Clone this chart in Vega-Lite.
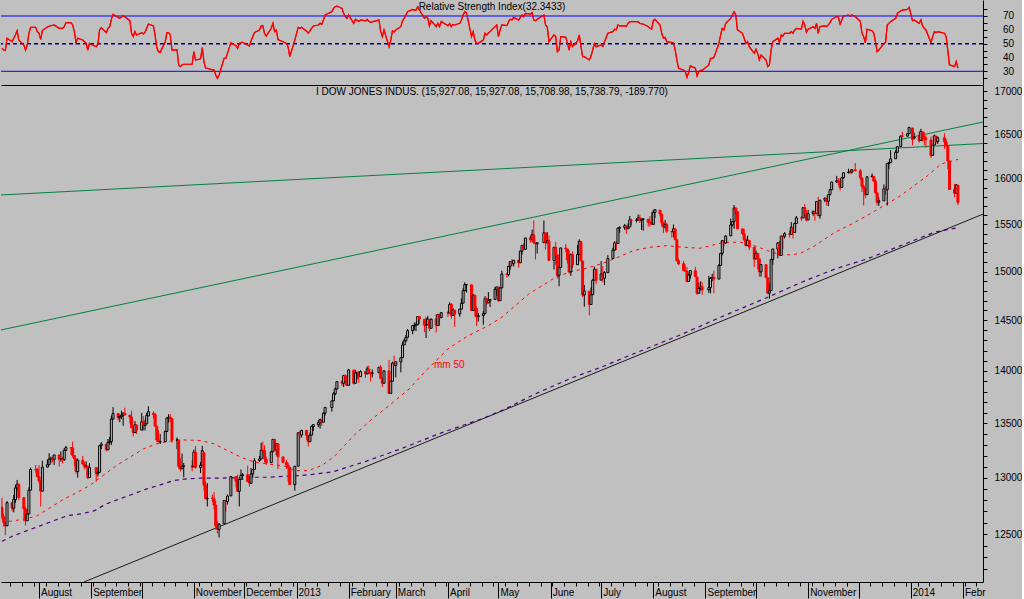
{
"$schema":"https://vega.github.io/schema/vega-lite/v6.json",
"background":"#c0c0c0",
"padding":0,
"spacing":0,
"config":{"view":{"stroke":null},"scale":{"continuousPadding":0},"font":"Liberation Sans","title":{"font":"Liberation Sans","fontSize":10,"fontWeight":"normal","color":"#000000","anchor":"middle","offset":-12,"baseline":"alphabetic"},"axis":{"labelFont":"Liberation Sans","labelFontSize":10,"labelColor":"#000000","domainColor":"#000000","tickColor":"#000000","grid":false,"title":null}},
"datasets":{
"px":[
{"t":"2012-07-10","o":12736,"h":12820,"l":12630,"c":12653,"r":46.6},
{"t":"2012-07-11","o":12653,"h":12680,"l":12565,"c":12605,"r":45.4},
{"t":"2012-07-12","o":12601,"h":12601,"l":12492,"c":12573,"r":45},
{"t":"2012-07-13","o":12573,"h":12791,"l":12573,"c":12777,"r":53.9},
{"t":"2012-07-16","o":12776,"h":12776,"l":12700,"c":12727,"r":51.4},
{"t":"2012-07-17","o":12727,"h":12845,"l":12691,"c":12806,"r":53.9},
{"t":"2012-07-18","o":12803,"h":12935,"l":12775,"c":12908,"r":56.3},
{"t":"2012-07-19","o":12909,"h":12980,"l":12880,"c":12943,"r":59.4},
{"t":"2012-07-20","o":12942,"h":12942,"l":12800,"c":12822,"r":52.6},
{"t":"2012-07-23","o":12821,"h":12821,"l":12611,"c":12722,"r":49},
{"t":"2012-07-24","o":12721,"h":12742,"l":12575,"c":12617,"r":45.4},
{"t":"2012-07-25","o":12617,"h":12716,"l":12617,"c":12676,"r":49},
{"t":"2012-07-26","o":12677,"h":12913,"l":12677,"c":12887,"r":57.5},
{"t":"2012-07-27","o":12888,"h":13092,"l":12888,"c":13075,"r":61.8},
{"t":"2012-07-30","o":13075,"h":13115,"l":13044,"c":13074,"r":61.8},
{"t":"2012-07-31","o":13073,"h":13088,"l":13005,"c":13009,"r":58.7},
{"t":"2012-08-01","o":13009,"h":13114,"l":12950,"c":12971,"r":57.5},
{"t":"2012-08-02","o":12970,"h":12970,"l":12743,"c":12879,"r":53.1},
{"t":"2012-08-03","o":12879,"h":13154,"l":12879,"c":13096,"r":59.5},
{"t":"2012-08-06","o":13096,"h":13165,"l":13096,"c":13118,"r":62},
{"t":"2012-08-07","o":13117,"h":13223,"l":13117,"c":13169,"r":62.6},
{"t":"2012-08-08","o":13167,"h":13191,"l":13130,"c":13176,"r":63},
{"t":"2012-08-09","o":13175,"h":13191,"l":13138,"c":13165,"r":63.2},
{"t":"2012-08-10","o":13164,"h":13208,"l":13115,"c":13207,"r":63.5},
{"t":"2012-08-13","o":13207,"h":13207,"l":13100,"c":13169,"r":61.1},
{"t":"2012-08-14","o":13170,"h":13240,"l":13145,"c":13172,"r":61.1},
{"t":"2012-08-15","o":13172,"h":13190,"l":13130,"c":13164,"r":61.1},
{"t":"2012-08-16","o":13165,"h":13270,"l":13152,"c":13250,"r":62.3},
{"t":"2012-08-17","o":13250,"h":13290,"l":13242,"c":13275,"r":65.2},
{"t":"2012-08-20","o":13274,"h":13274,"l":13209,"c":13272,"r":65.2},
{"t":"2012-08-21","o":13272,"h":13330,"l":13183,"c":13203,"r":63.5},
{"t":"2012-08-22","o":13202,"h":13205,"l":13105,"c":13173,"r":58.7},
{"t":"2012-08-23","o":13171,"h":13171,"l":13036,"c":13057,"r":50.7},
{"t":"2012-08-24","o":13055,"h":13175,"l":13000,"c":13158,"r":53.9},
{"t":"2012-08-27","o":13158,"h":13199,"l":13119,"c":13124,"r":52.6},
{"t":"2012-08-28","o":13123,"h":13144,"l":13075,"c":13102,"r":51.4},
{"t":"2012-08-29","o":13103,"h":13149,"l":13087,"c":13107,"r":50.2},
{"t":"2012-08-30","o":13105,"h":13105,"l":12986,"c":13000,"r":45.4},
{"t":"2012-08-31","o":13001,"h":13133,"l":13001,"c":13091,"r":50.2},
{"t":"2012-09-04","o":13092,"h":13092,"l":12964,"c":13036,"r":47.8},
{"t":"2012-09-05","o":13036,"h":13081,"l":13010,"c":13047,"r":49.7},
{"t":"2012-09-06","o":13049,"h":13293,"l":13049,"c":13292,"r":59.9},
{"t":"2012-09-07","o":13292,"h":13326,"l":13261,"c":13307,"r":61.6},
{"t":"2012-09-10","o":13306,"h":13306,"l":13239,"c":13254,"r":58},
{"t":"2012-09-11","o":13254,"h":13354,"l":13254,"c":13323,"r":61.1},
{"t":"2012-09-12","o":13324,"h":13373,"l":13303,"c":13333,"r":62.3},
{"t":"2012-09-13","o":13330,"h":13573,"l":13300,"c":13540,"r":67.6},
{"t":"2012-09-14","o":13540,"h":13653,"l":13533,"c":13593,"r":71.2},
{"t":"2012-09-17","o":13592,"h":13592,"l":13528,"c":13553,"r":69},
{"t":"2012-09-18","o":13553,"h":13582,"l":13510,"c":13565,"r":68.3},
{"t":"2012-09-19","o":13564,"h":13620,"l":13540,"c":13577,"r":69.4},
{"t":"2012-09-20","o":13576,"h":13597,"l":13477,"c":13597,"r":70},
{"t":"2012-09-21","o":13597,"h":13647,"l":13579,"c":13579,"r":69.4},
{"t":"2012-09-24","o":13577,"h":13577,"l":13500,"c":13559,"r":66.6},
{"t":"2012-09-25","o":13559,"h":13620,"l":13456,"c":13458,"r":57.5},
{"t":"2012-09-26","o":13457,"h":13457,"l":13378,"c":13414,"r":55.1},
{"t":"2012-09-27","o":13414,"h":13522,"l":13414,"c":13486,"r":58.7},
{"t":"2012-09-28","o":13485,"h":13485,"l":13400,"c":13437,"r":56.3},
{"t":"2012-10-01","o":13437,"h":13598,"l":13437,"c":13515,"r":58},
{"t":"2012-10-02","o":13515,"h":13567,"l":13432,"c":13482,"r":57},
{"t":"2012-10-03","o":13479,"h":13536,"l":13434,"c":13495,"r":58.2},
{"t":"2012-10-04","o":13495,"h":13598,"l":13495,"c":13575,"r":61.1},
{"t":"2012-10-05","o":13569,"h":13661,"l":13569,"c":13610,"r":64.2},
{"t":"2012-10-08","o":13594,"h":13613,"l":13546,"c":13584,"r":62.8},
{"t":"2012-10-09","o":13582,"h":13599,"l":13473,"c":13473,"r":56},
{"t":"2012-10-10","o":13473,"h":13473,"l":13327,"c":13345,"r":47},
{"t":"2012-10-11","o":13346,"h":13434,"l":13326,"c":13327,"r":44.2},
{"t":"2012-10-12","o":13326,"h":13401,"l":13308,"c":13329,"r":43.7},
{"t":"2012-10-15","o":13329,"h":13435,"l":13329,"c":13424,"r":51.4},
{"t":"2012-10-16","o":13424,"h":13553,"l":13424,"c":13551,"r":58},
{"t":"2012-10-17","o":13550,"h":13585,"l":13508,"c":13557,"r":58},
{"t":"2012-10-18","o":13556,"h":13588,"l":13511,"c":13548,"r":56.3},
{"t":"2012-10-19","o":13545,"h":13545,"l":13320,"c":13344,"r":45.4},
{"t":"2012-10-22","o":13343,"h":13368,"l":13260,"c":13346,"r":45.6},
{"t":"2012-10-23","o":13344,"h":13344,"l":13082,"c":13103,"r":34.6},
{"t":"2012-10-24","o":13104,"h":13175,"l":13055,"c":13078,"r":33.4},
{"t":"2012-10-25","o":13080,"h":13220,"l":13080,"c":13104,"r":34.6},
{"t":"2012-10-26","o":13103,"h":13134,"l":13004,"c":13107,"r":35.1},
{"t":"2012-10-31","o":13108,"h":13158,"l":13058,"c":13096,"r":35.1},
{"t":"2012-11-01","o":13099,"h":13257,"l":13099,"c":13232,"r":44.2},
{"t":"2012-11-02","o":13233,"h":13290,"l":13083,"c":13093,"r":38.2},
{"t":"2012-11-05","o":13092,"h":13141,"l":13042,"c":13112,"r":39},
{"t":"2012-11-06","o":13113,"h":13290,"l":13113,"c":13246,"r":47.1},
{"t":"2012-11-07","o":13228,"h":13228,"l":12883,"c":12933,"r":37},
{"t":"2012-11-08","o":12932,"h":12967,"l":12811,"c":12811,"r":32.2},
{"t":"2012-11-09","o":12811,"h":12951,"l":12743,"c":12815,"r":32.2},
{"t":"2012-11-12","o":12816,"h":12849,"l":12781,"c":12815,"r":31},
{"t":"2012-11-13","o":12811,"h":12870,"l":12715,"c":12756,"r":31},
{"t":"2012-11-14","o":12755,"h":12794,"l":12541,"c":12571,"r":27.3},
{"t":"2012-11-15","o":12570,"h":12616,"l":12506,"c":12543,"r":24.9},
{"t":"2012-11-16","o":12542,"h":12595,"l":12471,"c":12588,"r":27.3},
{"t":"2012-11-19","o":12590,"h":12797,"l":12590,"c":12796,"r":39.4},
{"t":"2012-11-20","o":12795,"h":12797,"l":12696,"c":12788,"r":39.4},
{"t":"2012-11-21","o":12787,"h":12850,"l":12760,"c":12836,"r":43},
{"t":"2012-11-23","o":12837,"h":13010,"l":12837,"c":13010,"r":50.7},
{"t":"2012-11-26","o":13009,"h":13009,"l":12913,"c":12968,"r":48.5},
{"t":"2012-11-27","o":12966,"h":13027,"l":12870,"c":12878,"r":46.6},
{"t":"2012-11-28","o":12877,"h":12987,"l":12743,"c":12985,"r":50.2},
{"t":"2012-11-29","o":12986,"h":13074,"l":12986,"c":13022,"r":50.7},
{"t":"2012-11-30","o":13020,"h":13042,"l":12980,"c":13026,"r":51},
{"t":"2012-12-03","o":13027,"h":13109,"l":12960,"c":12966,"r":49},
{"t":"2012-12-04","o":12965,"h":13011,"l":12918,"c":12952,"r":48.3},
{"t":"2012-12-05","o":12950,"h":13087,"l":12944,"c":13034,"r":52},
{"t":"2012-12-06","o":13033,"h":13079,"l":12998,"c":13075,"r":55.1},
{"t":"2012-12-07","o":13075,"h":13178,"l":13075,"c":13155,"r":58},
{"t":"2012-12-10","o":13155,"h":13198,"l":13145,"c":13170,"r":59.9},
{"t":"2012-12-11","o":13169,"h":13320,"l":13169,"c":13249,"r":62.8},
{"t":"2012-12-12","o":13249,"h":13330,"l":13228,"c":13245,"r":62.8},
{"t":"2012-12-13","o":13246,"h":13296,"l":13141,"c":13171,"r":57.5},
{"t":"2012-12-14","o":13170,"h":13192,"l":13115,"c":13135,"r":55.5},
{"t":"2012-12-17","o":13137,"h":13246,"l":13137,"c":13236,"r":61.1},
{"t":"2012-12-18","o":13236,"h":13352,"l":13236,"c":13351,"r":64.7},
{"t":"2012-12-19","o":13350,"h":13352,"l":13246,"c":13252,"r":58.7},
{"t":"2012-12-20","o":13252,"h":13312,"l":13203,"c":13312,"r":59.9},
{"t":"2012-12-21","o":13310,"h":13310,"l":13078,"c":13190,"r":53},
{"t":"2012-12-24","o":13189,"h":13189,"l":13133,"c":13139,"r":51.4},
{"t":"2012-12-26","o":13139,"h":13162,"l":13078,"c":13115,"r":50.2},
{"t":"2012-12-27","o":13114,"h":13138,"l":12964,"c":13096,"r":47.8},
{"t":"2012-12-28","o":13095,"h":13095,"l":12935,"c":12938,"r":40.6},
{"t":"2012-12-31","o":12938,"h":13105,"l":12883,"c":13104,"r":52.6},
{"t":"2013-01-02","o":13104,"h":13412,"l":13104,"c":13412,"r":61.8},
{"t":"2013-01-03","o":13413,"h":13430,"l":13358,"c":13391,"r":61.1},
{"t":"2013-01-04","o":13392,"h":13436,"l":13367,"c":13435,"r":61.8},
{"t":"2013-01-07","o":13435,"h":13435,"l":13345,"c":13384,"r":59},
{"t":"2013-01-08","o":13383,"h":13384,"l":13284,"c":13329,"r":57.5},
{"t":"2013-01-09","o":13329,"h":13414,"l":13329,"c":13390,"r":59.4},
{"t":"2013-01-10","o":13390,"h":13481,"l":13390,"c":13471,"r":61.1},
{"t":"2013-01-11","o":13470,"h":13488,"l":13429,"c":13488,"r":62.8},
{"t":"2013-01-14","o":13487,"h":13530,"l":13464,"c":13507,"r":63.5},
{"t":"2013-01-15","o":13504,"h":13545,"l":13450,"c":13535,"r":64.7},
{"t":"2013-01-16","o":13532,"h":13532,"l":13474,"c":13511,"r":64},
{"t":"2013-01-17","o":13511,"h":13603,"l":13511,"c":13596,"r":67.1},
{"t":"2013-01-18","o":13596,"h":13650,"l":13574,"c":13650,"r":70.7},
{"t":"2013-01-22","o":13649,"h":13713,"l":13610,"c":13712,"r":73.1},
{"t":"2013-01-23","o":13712,"h":13795,"l":13712,"c":13780,"r":75.5},
{"t":"2013-01-24","o":13779,"h":13839,"l":13766,"c":13825,"r":76.7},
{"t":"2013-01-25","o":13825,"h":13896,"l":13825,"c":13896,"r":77.2},
{"t":"2013-01-28","o":13895,"h":13909,"l":13856,"c":13882,"r":75.5},
{"t":"2013-01-29","o":13881,"h":13955,"l":13845,"c":13955,"r":72},
{"t":"2013-01-30","o":13954,"h":13967,"l":13857,"c":13911,"r":69.6},
{"t":"2013-01-31","o":13910,"h":13944,"l":13859,"c":13861,"r":68.3},
{"t":"2013-02-01","o":13862,"h":14020,"l":13862,"c":14010,"r":70.7},
{"t":"2013-02-04","o":14008,"h":14008,"l":13867,"c":13880,"r":64.7},
{"t":"2013-02-05","o":13881,"h":14011,"l":13881,"c":13979,"r":67.6},
{"t":"2013-02-06","o":13978,"h":13987,"l":13916,"c":13987,"r":67},
{"t":"2013-02-07","o":13986,"h":13999,"l":13885,"c":13944,"r":66.1},
{"t":"2013-02-08","o":13945,"h":14006,"l":13945,"c":13993,"r":67.1},
{"t":"2013-02-11","o":13992,"h":13992,"l":13934,"c":13971,"r":66.5},
{"t":"2013-02-12","o":13971,"h":14045,"l":13971,"c":14019,"r":67.5},
{"t":"2013-02-13","o":14018,"h":14052,"l":13969,"c":13983,"r":66.1},
{"t":"2013-02-14","o":13983,"h":13983,"l":13897,"c":13973,"r":65.4},
{"t":"2013-02-15","o":13973,"h":14015,"l":13937,"c":13982,"r":65.8},
{"t":"2013-02-19","o":13982,"h":14036,"l":13982,"c":14036,"r":67.1},
{"t":"2013-02-20","o":14035,"h":14057,"l":13926,"c":13928,"r":59},
{"t":"2013-02-21","o":13925,"h":13925,"l":13845,"c":13881,"r":55.1},
{"t":"2013-02-22","o":13881,"h":14001,"l":13881,"c":14001,"r":59.9},
{"t":"2013-02-25","o":14000,"h":14108,"l":13784,"c":13784,"r":47.8},
{"t":"2013-02-26","o":13784,"h":13902,"l":13784,"c":13900,"r":52.6},
{"t":"2013-02-27","o":13900,"h":14090,"l":13900,"c":14076,"r":59.2},
{"t":"2013-02-28","o":14075,"h":14150,"l":14045,"c":14054,"r":58.5},
{"t":"2013-03-01","o":14054,"h":14090,"l":13937,"c":14090,"r":59.9},
{"t":"2013-03-04","o":14088,"h":14128,"l":13987,"c":14128,"r":62.3},
{"t":"2013-03-05","o":14130,"h":14287,"l":14130,"c":14254,"r":66.6},
{"t":"2013-03-06","o":14255,"h":14316,"l":14255,"c":14296,"r":68.3},
{"t":"2013-03-07","o":14296,"h":14354,"l":14282,"c":14329,"r":70.7},
{"t":"2013-03-08","o":14330,"h":14413,"l":14330,"c":14397,"r":73.1},
{"t":"2013-03-11","o":14397,"h":14448,"l":14361,"c":14448,"r":74.8},
{"t":"2013-03-12","o":14447,"h":14479,"l":14400,"c":14450,"r":74.3},
{"t":"2013-03-13","o":14450,"h":14480,"l":14393,"c":14455,"r":74.3},
{"t":"2013-03-14","o":14456,"h":14539,"l":14456,"c":14539,"r":76.7},
{"t":"2013-03-15","o":14538,"h":14540,"l":14466,"c":14515,"r":74.3},
{"t":"2013-03-18","o":14511,"h":14511,"l":14382,"c":14453,"r":68.3},
{"t":"2013-03-19","o":14452,"h":14531,"l":14324,"c":14456,"r":69.6},
{"t":"2013-03-20","o":14457,"h":14546,"l":14457,"c":14512,"r":68.3},
{"t":"2013-03-21","o":14511,"h":14511,"l":14390,"c":14421,"r":62.8},
{"t":"2013-03-22","o":14421,"h":14518,"l":14421,"c":14512,"r":66.6},
{"t":"2013-03-25","o":14513,"h":14563,"l":14378,"c":14448,"r":62.3},
{"t":"2013-03-26","o":14448,"h":14560,"l":14448,"c":14560,"r":64.7},
{"t":"2013-03-27","o":14559,"h":14559,"l":14446,"c":14527,"r":62.3},
{"t":"2013-03-28","o":14527,"h":14585,"l":14527,"c":14579,"r":66.1},
{"t":"2013-04-01","o":14578,"h":14598,"l":14535,"c":14573,"r":63},
{"t":"2013-04-02","o":14574,"h":14684,"l":14574,"c":14662,"r":64.5},
{"t":"2013-04-03","o":14662,"h":14675,"l":14516,"c":14550,"r":62.3},
{"t":"2013-04-04","o":14550,"h":14622,"l":14550,"c":14606,"r":63.9},
{"t":"2013-04-05","o":14603,"h":14603,"l":14434,"c":14565,"r":63.5},
{"t":"2013-04-08","o":14565,"h":14613,"l":14537,"c":14614,"r":64.7},
{"t":"2013-04-09","o":14613,"h":14723,"l":14613,"c":14673,"r":67.1},
{"t":"2013-04-10","o":14674,"h":14826,"l":14674,"c":14802,"r":70.7},
{"t":"2013-04-11","o":14802,"h":14888,"l":14802,"c":14865,"r":73.1},
{"t":"2013-04-12","o":14864,"h":14866,"l":14783,"c":14865,"r":72.4},
{"t":"2013-04-15","o":14863,"h":14863,"l":14596,"c":14599,"r":55.1},
{"t":"2013-04-16","o":14600,"h":14769,"l":14600,"c":14757,"r":58.7},
{"t":"2013-04-17","o":14756,"h":14756,"l":14536,"c":14619,"r":52.6},
{"t":"2013-04-18","o":14619,"h":14640,"l":14444,"c":14537,"r":50.2},
{"t":"2013-04-19","o":14537,"h":14574,"l":14487,"c":14548,"r":50.2},
{"t":"2013-04-22","o":14548,"h":14595,"l":14456,"c":14567,"r":52.6},
{"t":"2013-04-23","o":14568,"h":14746,"l":14568,"c":14719,"r":57.5},
{"t":"2013-04-24","o":14720,"h":14731,"l":14656,"c":14676,"r":56.3},
{"t":"2013-04-25","o":14677,"h":14787,"l":14677,"c":14700,"r":57.5},
{"t":"2013-04-26","o":14699,"h":14715,"l":14636,"c":14712,"r":58.7},
{"t":"2013-04-29","o":14713,"h":14843,"l":14713,"c":14818,"r":62.3},
{"t":"2013-04-30","o":14818,"h":14844,"l":14749,"c":14840,"r":63.5},
{"t":"2013-05-01","o":14839,"h":14839,"l":14687,"c":14700,"r":55.1},
{"t":"2013-05-02","o":14700,"h":14832,"l":14700,"c":14831,"r":59.9},
{"t":"2013-05-03","o":14831,"h":15009,"l":14831,"c":14974,"r":63.5},
{"t":"2013-05-06","o":14973,"h":14986,"l":14936,"c":14969,"r":63},
{"t":"2013-05-07","o":14968,"h":15057,"l":14950,"c":15056,"r":65.9},
{"t":"2013-05-08","o":15056,"h":15106,"l":15019,"c":15105,"r":67.6},
{"t":"2013-05-09","o":15106,"h":15128,"l":15057,"c":15082,"r":67.1},
{"t":"2013-05-10","o":15082,"h":15118,"l":15053,"c":15118,"r":69},
{"t":"2013-05-13","o":15118,"h":15118,"l":15039,"c":15091,"r":67.1},
{"t":"2013-05-14","o":15091,"h":15219,"l":15091,"c":15215,"r":69},
{"t":"2013-05-15","o":15213,"h":15275,"l":15177,"c":15275,"r":70.7},
{"t":"2013-05-16","o":15275,"h":15296,"l":15233,"c":15233,"r":69.5},
{"t":"2013-05-17","o":15233,"h":15355,"l":15233,"c":15354,"r":71.9},
{"t":"2013-05-20","o":15356,"h":15381,"l":15304,"c":15335,"r":71.4},
{"t":"2013-05-21","o":15336,"h":15443,"l":15313,"c":15388,"r":72.4},
{"t":"2013-05-22","o":15387,"h":15543,"l":15288,"c":15307,"r":67.1},
{"t":"2013-05-23","o":15303,"h":15303,"l":15125,"c":15294,"r":66.6},
{"t":"2013-05-24","o":15292,"h":15305,"l":15189,"c":15303,"r":67.6},
{"t":"2013-05-28","o":15304,"h":15542,"l":15304,"c":15409,"r":70.7},
{"t":"2013-05-29","o":15408,"h":15408,"l":15231,"c":15303,"r":63.5},
{"t":"2013-05-30","o":15303,"h":15416,"l":15297,"c":15324,"r":62},
{"t":"2013-05-31","o":15324,"h":15379,"l":15116,"c":15116,"r":51.4},
{"t":"2013-06-03","o":15116,"h":15255,"l":15022,"c":15255,"r":56.3},
{"t":"2013-06-04","o":15254,"h":15313,"l":15071,"c":15177,"r":55.1},
{"t":"2013-06-05","o":15176,"h":15176,"l":14927,"c":14960,"r":44.2},
{"t":"2013-06-06","o":14961,"h":15041,"l":14848,"c":15041,"r":45.4},
{"t":"2013-06-07","o":15042,"h":15249,"l":15042,"c":15248,"r":55.1},
{"t":"2013-06-10","o":15247,"h":15290,"l":15205,"c":15239,"r":54.6},
{"t":"2013-06-11","o":15237,"h":15237,"l":15082,"c":15122,"r":50.2},
{"t":"2013-06-12","o":15123,"h":15224,"l":14979,"c":14996,"r":45.4},
{"t":"2013-06-13","o":14996,"h":15189,"l":14955,"c":15177,"r":51.4},
{"t":"2013-06-14","o":15176,"h":15212,"l":15039,"c":15071,"r":47.8},
{"t":"2013-06-17","o":15071,"h":15279,"l":15071,"c":15180,"r":52},
{"t":"2013-06-18","o":15179,"h":15340,"l":15179,"c":15318,"r":56.3},
{"t":"2013-06-19","o":15317,"h":15319,"l":15109,"c":15112,"r":48},
{"t":"2013-06-20","o":15110,"h":15110,"l":14737,"c":14758,"r":40.6},
{"t":"2013-06-21","o":14758,"h":14861,"l":14639,"c":14800,"r":40.6},
{"t":"2013-06-24","o":14798,"h":14798,"l":14551,"c":14660,"r":38.2},
{"t":"2013-06-25","o":14661,"h":14836,"l":14661,"c":14760,"r":41},
{"t":"2013-06-26","o":14761,"h":14921,"l":14761,"c":14910,"r":45.4},
{"t":"2013-06-27","o":14911,"h":15052,"l":14911,"c":15024,"r":50.2},
{"t":"2013-06-28","o":15024,"h":15024,"l":14868,"c":14910,"r":47.8},
{"t":"2013-07-01","o":14911,"h":15109,"l":14911,"c":14975,"r":49},
{"t":"2013-07-02","o":14973,"h":15057,"l":14887,"c":14932,"r":48},
{"t":"2013-07-03","o":14931,"h":15004,"l":14859,"c":14988,"r":51.4},
{"t":"2013-07-05","o":14988,"h":15172,"l":14988,"c":15136,"r":57.5},
{"t":"2013-07-08","o":15136,"h":15251,"l":15136,"c":15225,"r":58.7},
{"t":"2013-07-09","o":15225,"h":15319,"l":15225,"c":15300,"r":60.4},
{"t":"2013-07-10","o":15300,"h":15317,"l":15225,"c":15291,"r":60},
{"t":"2013-07-11","o":15295,"h":15460,"l":15295,"c":15460,"r":63.5},
{"t":"2013-07-12","o":15459,"h":15480,"l":15409,"c":15464,"r":62.8},
{"t":"2013-07-15","o":15465,"h":15505,"l":15440,"c":15485,"r":62.8},
{"t":"2013-07-16","o":15484,"h":15484,"l":15398,"c":15452,"r":62.5},
{"t":"2013-07-17","o":15452,"h":15511,"l":15447,"c":15471,"r":64.7},
{"t":"2013-07-18","o":15472,"h":15590,"l":15472,"c":15548,"r":65.9},
{"t":"2013-07-19","o":15545,"h":15561,"l":15490,"c":15544,"r":65.9},
{"t":"2013-07-22","o":15544,"h":15569,"l":15520,"c":15545,"r":65.9},
{"t":"2013-07-23","o":15545,"h":15605,"l":15542,"c":15568,"r":65.9},
{"t":"2013-07-24","o":15569,"h":15605,"l":15514,"c":15543,"r":64.7},
{"t":"2013-07-25","o":15542,"h":15562,"l":15440,"c":15555,"r":64.2},
{"t":"2013-07-26","o":15554,"h":15560,"l":15432,"c":15559,"r":64.2},
{"t":"2013-07-29","o":15555,"h":15556,"l":15475,"c":15521,"r":62.3},
{"t":"2013-07-30","o":15522,"h":15589,"l":15477,"c":15521,"r":61.1},
{"t":"2013-07-31","o":15521,"h":15634,"l":15493,"c":15500,"r":60.5},
{"t":"2013-08-01","o":15500,"h":15658,"l":15500,"c":15628,"r":66.6},
{"t":"2013-08-02","o":15628,"h":15658,"l":15570,"c":15658,"r":67.6},
{"t":"2013-08-05","o":15653,"h":15653,"l":15584,"c":15612,"r":63.5},
{"t":"2013-08-06","o":15611,"h":15611,"l":15477,"c":15519,"r":57.5},
{"t":"2013-08-07","o":15518,"h":15518,"l":15405,"c":15471,"r":53.9},
{"t":"2013-08-08","o":15472,"h":15546,"l":15453,"c":15498,"r":54.5},
{"t":"2013-08-09","o":15497,"h":15518,"l":15408,"c":15426,"r":51.4},
{"t":"2013-08-12","o":15425,"h":15425,"l":15357,"c":15419,"r":50.7},
{"t":"2013-08-13","o":15420,"h":15498,"l":15361,"c":15452,"r":50.7},
{"t":"2013-08-14","o":15451,"h":15451,"l":15328,"c":15337,"r":45.4},
{"t":"2013-08-15","o":15336,"h":15336,"l":15107,"c":15112,"r":38.2},
{"t":"2013-08-16","o":15113,"h":15137,"l":15070,"c":15081,"r":32.2},
{"t":"2013-08-19","o":15082,"h":15112,"l":15010,"c":15010,"r":31},
{"t":"2013-08-20","o":15011,"h":15072,"l":15000,"c":15003,"r":29.8},
{"t":"2013-08-21","o":15003,"h":15047,"l":14887,"c":14897,"r":25.7},
{"t":"2013-08-22","o":14898,"h":14981,"l":14898,"c":14964,"r":29.1},
{"t":"2013-08-23","o":14964,"h":15011,"l":14926,"c":15010,"r":33.9},
{"t":"2013-08-26","o":15009,"h":15049,"l":14945,"c":14946,"r":32.2},
{"t":"2013-08-27","o":14943,"h":14943,"l":14760,"c":14776,"r":26.6},
{"t":"2013-08-28","o":14776,"h":14885,"l":14776,"c":14824,"r":29.8},
{"t":"2013-08-29","o":14824,"h":14899,"l":14805,"c":14841,"r":30.6},
{"t":"2013-08-30","o":14843,"h":14893,"l":14760,"c":14810,"r":30.6},
{"t":"2013-09-03","o":14810,"h":14955,"l":14777,"c":14834,"r":34.6},
{"t":"2013-09-04","o":14833,"h":14942,"l":14775,"c":14930,"r":39.4},
{"t":"2013-09-05","o":14931,"h":14976,"l":14899,"c":14938,"r":39.4},
{"t":"2013-09-06","o":14939,"h":15009,"l":14776,"c":14922,"r":40},
{"t":"2013-09-09","o":14922,"h":15079,"l":14922,"c":15063,"r":50.2},
{"t":"2013-09-10","o":15064,"h":15191,"l":15064,"c":15191,"r":56.3},
{"t":"2013-09-11","o":15192,"h":15326,"l":15170,"c":15326,"r":61.1},
{"t":"2013-09-12","o":15326,"h":15327,"l":15264,"c":15300,"r":60},
{"t":"2013-09-13","o":15300,"h":15381,"l":15292,"c":15376,"r":64.7},
{"t":"2013-09-16","o":15376,"h":15563,"l":15376,"c":15494,"r":68.3},
{"t":"2013-09-17","o":15494,"h":15535,"l":15478,"c":15529,"r":70.7},
{"t":"2013-09-18","o":15530,"h":15709,"l":15453,"c":15676,"r":73.1},
{"t":"2013-09-19","o":15677,"h":15677,"l":15605,"c":15637,"r":70.7},
{"t":"2013-09-20","o":15637,"h":15637,"l":15451,"c":15452,"r":60},
{"t":"2013-09-23","o":15451,"h":15451,"l":15385,"c":15401,"r":57.5},
{"t":"2013-09-24","o":15402,"h":15454,"l":15316,"c":15334,"r":53.9},
{"t":"2013-09-25","o":15335,"h":15359,"l":15264,"c":15273,"r":50.2},
{"t":"2013-09-26","o":15273,"h":15378,"l":15273,"c":15329,"r":51.4},
{"t":"2013-09-27","o":15328,"h":15328,"l":15225,"c":15258,"r":47.8},
{"t":"2013-09-30","o":15257,"h":15257,"l":15047,"c":15130,"r":43},
{"t":"2013-10-01","o":15132,"h":15222,"l":15132,"c":15192,"r":45.9},
{"t":"2013-10-02","o":15191,"h":15191,"l":15024,"c":15133,"r":43},
{"t":"2013-10-03","o":15133,"h":15134,"l":14947,"c":14997,"r":38.2},
{"t":"2013-10-04","o":14996,"h":15074,"l":14946,"c":15073,"r":41.8},
{"t":"2013-10-07","o":15072,"h":15072,"l":14935,"c":14936,"r":38.2},
{"t":"2013-10-08","o":14935,"h":14936,"l":14765,"c":14776,"r":33.4},
{"t":"2013-10-09","o":14777,"h":14884,"l":14720,"c":14802,"r":34.6},
{"t":"2013-10-10","o":14804,"h":15127,"l":14804,"c":15127,"r":45.4},
{"t":"2013-10-11","o":15125,"h":15237,"l":15072,"c":15237,"r":51.4},
{"t":"2013-10-14","o":15235,"h":15311,"l":15139,"c":15301,"r":53.9},
{"t":"2013-10-15","o":15300,"h":15319,"l":15162,"c":15169,"r":50.7},
{"t":"2013-10-16","o":15168,"h":15374,"l":15168,"c":15374,"r":56.3},
{"t":"2013-10-17","o":15374,"h":15376,"l":15234,"c":15372,"r":55.5},
{"t":"2013-10-18","o":15373,"h":15416,"l":15348,"c":15400,"r":57.5},
{"t":"2013-10-21","o":15399,"h":15433,"l":15357,"c":15393,"r":57.5},
{"t":"2013-10-22","o":15392,"h":15524,"l":15392,"c":15468,"r":58.7},
{"t":"2013-10-23","o":15467,"h":15467,"l":15349,"c":15413,"r":57.5},
{"t":"2013-10-24","o":15413,"h":15518,"l":15413,"c":15510,"r":59.9},
{"t":"2013-10-25","o":15509,"h":15590,"l":15509,"c":15570,"r":61.1},
{"t":"2013-10-28","o":15570,"h":15584,"l":15537,"c":15569,"r":60.5},
{"t":"2013-10-29","o":15569,"h":15680,"l":15569,"c":15680,"r":66.1},
{"t":"2013-10-30","o":15681,"h":15721,"l":15569,"c":15619,"r":63.5},
{"t":"2013-10-31","o":15619,"h":15651,"l":15532,"c":15546,"r":58.2},
{"t":"2013-11-01","o":15547,"h":15657,"l":15547,"c":15615,"r":60.4},
{"t":"2013-11-04","o":15616,"h":15650,"l":15593,"c":15639,"r":62.3},
{"t":"2013-11-05","o":15638,"h":15638,"l":15539,"c":15618,"r":61.1},
{"t":"2013-11-06","o":15619,"h":15750,"l":15619,"c":15747,"r":64.7},
{"t":"2013-11-07","o":15748,"h":15798,"l":15588,"c":15594,"r":57.5},
{"t":"2013-11-08","o":15592,"h":15764,"l":15560,"c":15762,"r":62.3},
{"t":"2013-11-11","o":15762,"h":15791,"l":15740,"c":15784,"r":62.8},
{"t":"2013-11-12","o":15782,"h":15782,"l":15702,"c":15751,"r":62.3},
{"t":"2013-11-13","o":15750,"h":15822,"l":15697,"c":15822,"r":63.5},
{"t":"2013-11-14","o":15823,"h":15877,"l":15812,"c":15876,"r":65.2},
{"t":"2013-11-15","o":15876,"h":15963,"l":15876,"c":15962,"r":67.6},
{"t":"2013-11-18","o":15963,"h":16030,"l":15950,"c":15976,"r":69.6},
{"t":"2013-11-19","o":15975,"h":16006,"l":15925,"c":15968,"r":69.2},
{"t":"2013-11-20","o":15968,"h":16005,"l":15867,"c":15900,"r":64.2},
{"t":"2013-11-21","o":15902,"h":16016,"l":15902,"c":16010,"r":67.1},
{"t":"2013-11-22","o":16010,"h":16065,"l":15999,"c":16065,"r":70},
{"t":"2013-11-25","o":16066,"h":16110,"l":16058,"c":16073,"r":70.7},
{"t":"2013-11-26","o":16074,"h":16103,"l":16053,"c":16073,"r":70},
{"t":"2013-11-27","o":16073,"h":16106,"l":16054,"c":16098,"r":70.7},
{"t":"2013-11-29","o":16098,"h":16174,"l":16084,"c":16086,"r":69.6},
{"t":"2013-12-02","o":16087,"h":16107,"l":15983,"c":16008,"r":66.1},
{"t":"2013-12-03","o":16008,"h":16008,"l":15853,"c":15915,"r":57.5},
{"t":"2013-12-04","o":15914,"h":15935,"l":15704,"c":15889,"r":55.1},
{"t":"2013-12-05","o":15886,"h":15886,"l":15783,"c":15821,"r":50.5},
{"t":"2013-12-06","o":15822,"h":16021,"l":15822,"c":16020,"r":60.4},
{"t":"2013-12-09","o":16020,"h":16057,"l":16015,"c":16026,"r":59.4},
{"t":"2013-12-10","o":16025,"h":16025,"l":15960,"c":15973,"r":57.5},
{"t":"2013-12-11","o":15974,"h":15993,"l":15830,"c":15844,"r":51.4},
{"t":"2013-12-12","o":15843,"h":15843,"l":15703,"c":15739,"r":44.2},
{"t":"2013-12-13","o":15740,"h":15792,"l":15700,"c":15755,"r":45.4},
{"t":"2013-12-16","o":15755,"h":15935,"l":15755,"c":15885,"r":50.2},
{"t":"2013-12-17","o":15884,"h":15912,"l":15821,"c":15875,"r":50.7},
{"t":"2013-12-18","o":15876,"h":16168,"l":15704,"c":16168,"r":63.5},
{"t":"2013-12-19","o":16167,"h":16187,"l":16105,"c":16179,"r":64.7},
{"t":"2013-12-20","o":16179,"h":16318,"l":16179,"c":16221,"r":65.9},
{"t":"2013-12-23","o":16222,"h":16318,"l":16222,"c":16294,"r":68.3},
{"t":"2013-12-24","o":16294,"h":16364,"l":16294,"c":16358,"r":71.9},
{"t":"2013-12-26","o":16358,"h":16484,"l":16358,"c":16479,"r":73.6},
{"t":"2013-12-27","o":16480,"h":16529,"l":16471,"c":16479,"r":74.3},
{"t":"2013-12-30","o":16479,"h":16511,"l":16474,"c":16505,"r":74.8},
{"t":"2013-12-31","o":16506,"h":16588,"l":16506,"c":16577,"r":76.3},
{"t":"2014-01-02","o":16572,"h":16573,"l":16375,"c":16441,"r":66.6},
{"t":"2014-01-03","o":16456,"h":16518,"l":16440,"c":16470,"r":67.1},
{"t":"2014-01-06","o":16474,"h":16532,"l":16405,"c":16425,"r":64.7},
{"t":"2014-01-07","o":16429,"h":16562,"l":16429,"c":16531,"r":67.1},
{"t":"2014-01-08","o":16527,"h":16528,"l":16416,"c":16463,"r":62.8},
{"t":"2014-01-09","o":16471,"h":16525,"l":16375,"c":16445,"r":61.1},
{"t":"2014-01-10","o":16453,"h":16487,"l":16345,"c":16437,"r":59.9},
{"t":"2014-01-13","o":16434,"h":16474,"l":16230,"c":16257,"r":50.7},
{"t":"2014-01-14","o":16260,"h":16374,"l":16260,"c":16374,"r":55.1},
{"t":"2014-01-15","o":16378,"h":16497,"l":16378,"c":16482,"r":58.7},
{"t":"2014-01-16","o":16478,"h":16480,"l":16397,"c":16418,"r":58},
{"t":"2014-01-17","o":16418,"h":16477,"l":16388,"c":16459,"r":58.7},
{"t":"2014-01-21","o":16460,"h":16512,"l":16334,"c":16415,"r":57.5},
{"t":"2014-01-22","o":16414,"h":16447,"l":16355,"c":16374,"r":55.1},
{"t":"2014-01-23","o":16371,"h":16371,"l":16105,"c":16198,"r":45},
{"t":"2014-01-24","o":16197,"h":16197,"l":15879,"c":15879,"r":34.6},
{"t":"2014-01-27","o":15880,"h":15942,"l":15791,"c":15838,"r":33.4},
{"t":"2014-01-28","o":15838,"h":15940,"l":15838,"c":15929,"r":37},
{"t":"2014-01-29","o":15927.08,"h":15927.08,"l":15708.98,"c":15738.79,"r":32.34}
],
"ma50":[
{"t":"2012-07-10","v":12610},{"t":"2012-07-15","v":12613},{"t":"2012-07-24","v":12633},{"t":"2012-07-31","v":12662},{"t":"2012-08-08","v":12736},{"t":"2012-08-16","v":12810},{"t":"2012-08-24","v":12870},{"t":"2012-08-31","v":12929},{"t":"2012-09-08","v":13019},{"t":"2012-09-16","v":13110},{"t":"2012-09-24","v":13186},{"t":"2012-10-02","v":13263},{"t":"2012-10-10","v":13309},{"t":"2012-10-16","v":13330},{"t":"2012-10-24","v":13346},{"t":"2012-11-05","v":13340},{"t":"2012-11-13","v":13309},{"t":"2012-11-21","v":13247},{"t":"2012-11-29","v":13186},{"t":"2012-12-07","v":13141},{"t":"2012-12-15","v":13125},{"t":"2012-12-25","v":13104},{"t":"2012-12-31","v":13064},{"t":"2013-01-08","v":13064},{"t":"2013-01-16","v":13110},{"t":"2013-01-24","v":13201},{"t":"2013-01-27","v":13253},{"t":"2013-02-05","v":13400},{"t":"2013-02-15","v":13542},{"t":"2013-02-25","v":13667},{"t":"2013-03-09","v":13827},{"t":"2013-03-18","v":13987},{"t":"2013-04-01","v":14216},{"t":"2013-04-13","v":14347},{"t":"2013-04-25","v":14447},{"t":"2013-05-03","v":14532},{"t":"2013-05-11","v":14649},{"t":"2013-05-19","v":14769},{"t":"2013-05-27","v":14854},{"t":"2013-06-04","v":14941},{"t":"2013-06-12","v":14993},{"t":"2013-06-22","v":15034},{"t":"2013-07-01","v":15080},{"t":"2013-07-11","v":15150},{"t":"2013-07-20","v":15219},{"t":"2013-07-30","v":15255},{"t":"2013-08-09","v":15272},{"t":"2013-08-19","v":15255},{"t":"2013-08-29","v":15245},{"t":"2013-09-04","v":15272},{"t":"2013-09-12","v":15308},{"t":"2013-09-22","v":15308},{"t":"2013-09-30","v":15272},{"t":"2013-10-08","v":15219},{"t":"2013-10-14","v":15184},{"t":"2013-10-22","v":15174},{"t":"2013-10-28","v":15195},{"t":"2013-11-05","v":15272},{"t":"2013-11-17","v":15415},{"t":"2013-11-27","v":15504},{"t":"2013-12-06","v":15594},{"t":"2013-12-16","v":15702},{"t":"2013-12-26","v":15812},{"t":"2014-01-03","v":15922},{"t":"2014-01-11","v":16033},{"t":"2014-01-19","v":16163},{"t":"2014-01-29","v":16215}
],
"ma200":[
{"t":"2012-07-10","v":12439},{"t":"2012-07-17","v":12488},{"t":"2012-07-25","v":12531},{"t":"2012-08-02","v":12575},{"t":"2012-08-10","v":12619},{"t":"2012-08-18","v":12662},{"t":"2012-08-26","v":12677},{"t":"2012-09-03","v":12706},{"t":"2012-09-10","v":12766},{"t":"2012-09-18","v":12810},{"t":"2012-09-26","v":12855},{"t":"2012-10-04","v":12899},{"t":"2012-10-12","v":12935},{"t":"2012-10-20","v":12974},{"t":"2012-10-28","v":12989},{"t":"2012-11-05","v":12996},{"t":"2012-11-15","v":12996},{"t":"2012-11-25","v":12999},{"t":"2012-12-05","v":13004},{"t":"2012-12-15","v":13004},{"t":"2012-12-25","v":13014},{"t":"2013-01-03","v":13019},{"t":"2013-01-13","v":13034},{"t":"2013-01-23","v":13055},{"t":"2013-02-12","v":13153},{"t":"2013-03-04","v":13263},{"t":"2013-03-28","v":13411},{"t":"2013-04-21","v":13542},{"t":"2013-05-03","v":13620},{"t":"2013-05-23","v":13779},{"t":"2013-06-12","v":13922},{"t":"2013-07-01","v":14036},{"t":"2013-07-20","v":14166},{"t":"2013-08-17","v":14354},{"t":"2013-09-10","v":14532},{"t":"2013-10-08","v":14735},{"t":"2013-10-28","v":14889},{"t":"2013-11-17","v":15027},{"t":"2013-12-06","v":15132},{"t":"2013-12-26","v":15272},{"t":"2014-01-15","v":15415},{"t":"2014-01-29","v":15465}
],
"tl":[
{"g":"g1","t":"2012-07-09T10:04:00Z","v":14404},{"g":"g1","t":"2014-02-12T21:36:00Z","v":16641},
{"g":"g2","t":"2012-07-09T10:04:00Z","v":15819},{"g":"g2","t":"2014-02-12T21:36:00Z","v":16394},
{"g":"k","t":"2012-08-27T17:00:00Z","v":12092},{"g":"k","t":"2014-02-12T21:36:00Z","v":15610}
]
},
"vconcat":[
{
"width":982,"height":85,
"title":{"text":"Relative Strength Index(32.3433)"},
"resolve":{"axis":{"x":"independent","y":"independent"}},
"layer":[
{"data":{"name":"px"},"mark":{"type":"line","color":"#ff0000","strokeWidth":1.2,"clip":true},
"encoding":{
"x":{"field":"t","type":"temporal","scale":{"type":"utc","nice":false,"padding":0,"domain":[{"year":2012,"month":7,"date":9,"hours":10,"minutes":4,"utc":true},{"year":2014,"month":2,"date":12,"hours":21,"minutes":36,"utc":true}]},"axis":{"orient":"bottom","labels":false,"ticks":false,"domain":true,"title":null}},
"y":{"field":"r","type":"quantitative","scale":{"domain":[20.09,81.57],"nice":false,"zero":false,"padding":0},"axis":{"orient":"right","values":[25,30,35,40,45,50,55,60,65,70,75],"tickSize":4,"labelAlign":"center","labelPadding":21,"labelExpr":"(datum.value>=30 && datum.value<=70 && datum.value%10==0) ? ''+datum.value : ''","labelOverlap":false,"labelFlush":false,"title":null}}
}},
{"data":{"values":[{}]},"mark":{"type":"rule","color":"#0000ff","strokeWidth":1},"encoding":{"y":{"datum":70,"type":"quantitative","scale":{"domain":[20.09,81.57],"nice":false,"zero":false,"padding":0},"axis":null}}},
{"data":{"values":[{}]},"mark":{"type":"rule","color":"#0000ff","strokeWidth":1},"encoding":{"y":{"datum":30,"type":"quantitative","scale":{"domain":[20.09,81.57],"nice":false,"zero":false,"padding":0},"axis":null}}},
{"data":{"values":[{}]},"mark":{"type":"rule","color":"#000080","strokeWidth":1.5,"strokeDash":[4,3]},"encoding":{"y":{"datum":50,"type":"quantitative","scale":{"domain":[20.09,81.57],"nice":false,"zero":false,"padding":0},"axis":null}}},
{"data":{"name":"px"},"mark":{"type":"line","color":"#ff0000","strokeWidth":1.2,"clip":true},
"encoding":{
"x":{"field":"t","type":"temporal","scale":{"type":"utc","nice":false,"padding":0,"domain":[{"year":2012,"month":7,"date":9,"hours":10,"minutes":4,"utc":true},{"year":2014,"month":2,"date":12,"hours":21,"minutes":36,"utc":true}]},"axis":null},
"y":{"field":"r","type":"quantitative","scale":{"domain":[20.09,81.57],"nice":false,"zero":false,"padding":0},"axis":null}
}}
]
},
{
"width":982,"height":497,
"title":{"text":"I DOW JONES INDUS. (15,927.08, 15,927.08, 15,708.98, 15,738.79, -189.770)"},
"resolve":{"axis":{"x":"independent","y":"independent"}},
"layer":[
{"data":{"name":"tl"},"transform":[{"filter":"datum.g != 'k'"}],"mark":{"type":"line","color":"#008040","strokeWidth":1,"clip":true},
"encoding":{
"x":{"field":"t","type":"temporal","scale":{"type":"utc","nice":false,"padding":0,"domain":[{"year":2012,"month":7,"date":9,"hours":10,"minutes":4,"utc":true},{"year":2014,"month":2,"date":12,"hours":21,"minutes":36,"utc":true}]},"axis":null},
"y":{"field":"v","type":"quantitative","scale":{"type":"log","domain":[12092,17074],"nice":false,"padding":0},"axis":{"orient":"right","values":[12200,12300,12400,12500,12600,12700,12800,12900,13000,13100,13200,13300,13400,13500,13600,13700,13800,13900,14000,14100,14200,14300,14400,14500,14600,14700,14800,14900,15000,15100,15200,15300,15400,15500,15600,15700,15800,15900,16000,16100,16200,16300,16400,16500,16600,16700,16800,16900,17000],"tickSize":4,"labelAlign":"center","labelPadding":21,"labelOverlap":false,"labelFlush":false,"labelExpr":"datum.value % 500 == 0 ? ''+datum.value : ''","title":null}},
"detail":{"field":"g"}}},
{"data":{"name":"tl"},"transform":[{"filter":"datum.g == 'k'"}],"mark":{"type":"line","color":"#1a1a1a","strokeWidth":1,"clip":true},
"encoding":{
"x":{"field":"t","type":"temporal","scale":{"type":"utc","nice":false,"padding":0,"domain":[{"year":2012,"month":7,"date":9,"hours":10,"minutes":4,"utc":true},{"year":2014,"month":2,"date":12,"hours":21,"minutes":36,"utc":true}]},"axis":null},
"y":{"field":"v","type":"quantitative","scale":{"type":"log","domain":[12092,17074],"nice":false,"padding":0},"axis":null}}},
{"data":{"name":"ma200"},"mark":{"type":"line","color":"#4b0082","strokeWidth":1.2,"strokeDash":[4,4],"clip":true},
"encoding":{
"x":{"field":"t","type":"temporal","scale":{"type":"utc","nice":false,"padding":0,"domain":[{"year":2012,"month":7,"date":9,"hours":10,"minutes":4,"utc":true},{"year":2014,"month":2,"date":12,"hours":21,"minutes":36,"utc":true}]},"axis":null},
"y":{"field":"v","type":"quantitative","scale":{"type":"log","domain":[12092,17074],"nice":false,"padding":0},"axis":null}}},
{"data":{"name":"ma50"},"mark":{"type":"line","color":"#ff0000","strokeWidth":1,"strokeDash":[3,4],"clip":true},
"encoding":{
"x":{"field":"t","type":"temporal","scale":{"type":"utc","nice":false,"padding":0,"domain":[{"year":2012,"month":7,"date":9,"hours":10,"minutes":4,"utc":true},{"year":2014,"month":2,"date":12,"hours":21,"minutes":36,"utc":true}]},"axis":null},
"y":{"field":"v","type":"quantitative","scale":{"type":"log","domain":[12092,17074],"nice":false,"padding":0},"axis":null}}},
{"data":{"name":"px"},"mark":{"type":"rule","strokeWidth":1,"clip":true},
"encoding":{
"x":{"field":"t","type":"temporal","scale":{"type":"utc","nice":false,"padding":0,"domain":[{"year":2012,"month":7,"date":9,"hours":10,"minutes":4,"utc":true},{"year":2014,"month":2,"date":12,"hours":21,"minutes":36,"utc":true}]},"axis":{"orient":"bottom","tickCount":{"interval":"week","step":1},"tickSize":4,"labels":false,"domain":false,"title":null}},
"y":{"field":"l","type":"quantitative","scale":{"type":"log","domain":[12092,17074],"nice":false,"padding":0},"axis":null},
"y2":{"field":"h"},
"color":{"condition":{"test":"datum.c >= datum.o","value":"#000000"},"value":"#ff0000"}}},
{"data":{"name":"px"},"mark":{"type":"bar","size":2,"strokeWidth":1,"orient":"vertical","clip":true},
"encoding":{
"x":{"field":"t","type":"temporal","scale":{"type":"utc","nice":false,"padding":0,"domain":[{"year":2012,"month":7,"date":9,"hours":10,"minutes":4,"utc":true},{"year":2014,"month":2,"date":12,"hours":21,"minutes":36,"utc":true}]},"axis":{"orient":"bottom","tickCount":{"interval":"month","step":1},"tickSize":16,"labelAlign":"left","labelBaseline":"top","labelPadding":-11,"labelOffset":1.5,"labelOverlap":false,"labelFlush":false,"labelBound":false,"title":null,"labelExpr":"utcmonth(datum.value)==0 ? utcFormat(datum.value,'%Y') : ((utcyear(datum.value)==2014 && utcmonth(datum.value)==1) ? 'Febr' : ((utcmonth(datum.value)==9 || (utcyear(datum.value)==2013 && utcmonth(datum.value)==11)) ? '' : utcFormat(datum.value,'%B')))"}},
"y":{"field":"o","type":"quantitative","scale":{"type":"log","domain":[12092,17074],"nice":false,"padding":0},"axis":null},
"y2":{"field":"c"},
"fill":{"condition":{"test":"datum.c >= datum.o","value":"#c0c0c0"},"value":"#ff0000"},
"stroke":{"condition":{"test":"datum.c >= datum.o","value":"#000000"},"value":"#ff0000"}}},
{"data":{"values":[{"t":"2013-03-23T17:00:00Z","v":14061,"s":"mm 50"}]},"mark":{"type":"text","align":"left","baseline":"middle","color":"#ff0000","fontSize":10,"font":"Liberation Sans"},
"encoding":{
"x":{"field":"t","type":"temporal","scale":{"type":"utc","nice":false,"padding":0,"domain":[{"year":2012,"month":7,"date":9,"hours":10,"minutes":4,"utc":true},{"year":2014,"month":2,"date":12,"hours":21,"minutes":36,"utc":true}]},"axis":null},
"y":{"field":"v","type":"quantitative","scale":{"type":"log","domain":[12092,17074],"nice":false,"padding":0},"axis":null},
"text":{"field":"s"}}}
]
}
]
}
